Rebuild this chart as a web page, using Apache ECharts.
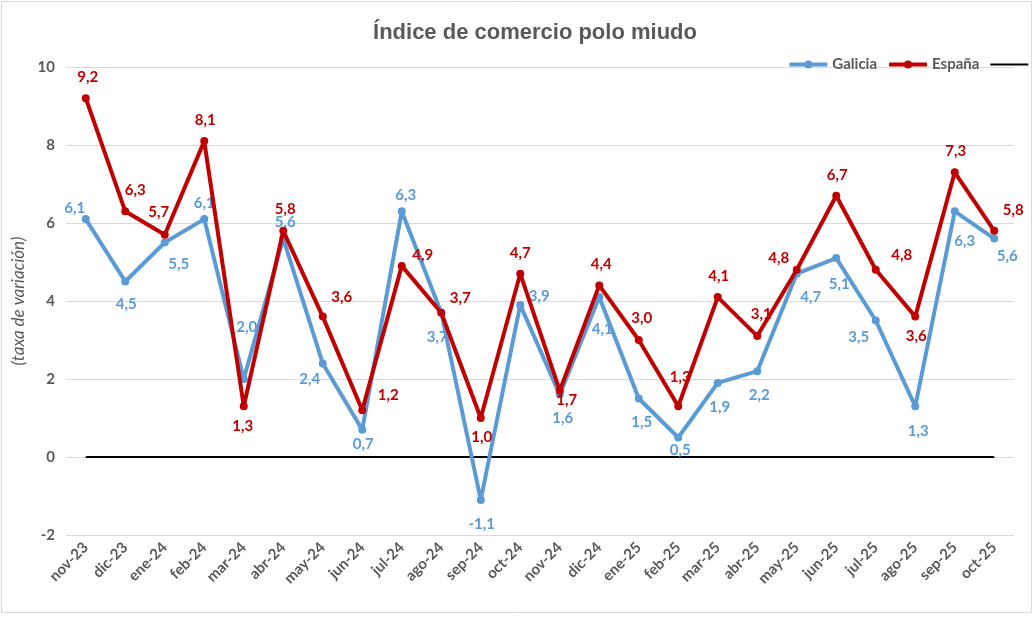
<!DOCTYPE html>
<html>
<head>
<meta charset="utf-8">
<script src="https://cdn.jsdelivr.net/npm/echarts@6/dist/echarts.min.js"></script>
<style>
html,body{margin:0;padding:0;background:#fff;}
#chart{width:1036px;height:620px;}
</style>
</head>
<body>
<div id="chart"></div>
<script>
const categories = ['nov-23','dic-23','ene-24','feb-24','mar-24','abr-24','may-24','jun-24','jul-24','ago-24','sep-24','oct-24','nov-24','dic-24','ene-25','feb-25','mar-25','abr-25','may-25','jun-25','jul-25','ago-25','sep-25','oct-25'];
const galicia = [6.1,4.5,5.5,6.1,2.0,5.6,2.4,0.7,6.3,3.7,-1.1,3.9,1.6,4.1,1.5,0.5,1.9,2.2,4.7,5.1,3.5,1.3,6.3,5.6];
const espana  = [9.2,6.3,5.7,8.1,1.3,5.8,3.6,1.2,4.9,3.7,1.0,4.7,1.7,4.4,3.0,1.3,4.1,3.1,4.8,6.7,4.8,3.6,7.3,5.8];
const zeroLine = categories.map(() => 0);
const yTicks = { min: -2, max: 10, interval: 2 };

// label offsets (px) relative to each point
const galOff = [[-11,-11],[1,23],[14,22],[0,-16],[3,-52],[2,-16],[-13,16],[1,14],[4,-16],[-4,24],[1,24],[19,-9],[3,24],[3,32],[3,24],[2,13],[2,24],[2,24],[14,23],[3,26],[-17,17],[3,25],[10,30],[13,18]];
const espOff = [[2,-21],[10,-21],[-6,-23],[1,-21],[-1,20],[2,-22],[19,-19],[26,-15],[21,-11],[19,-15],[1,19],[0,-21],[7,9],[2,-21],[3,-22],[2,-29],[1,-21],[4,-22],[-18,-12],[1,-21],[26,-15],[1,20],[1,-21],[19,-21]];

const fmt = v => v.toFixed(1).replace('.', ',');
const FONT = 'Lato';
const GRAY = '#595959';

function mkData(vals, offs) {
  return vals.map((v, i) => ({ value: v, label: { offset: offs[i] } }));
}

const chart = echarts.init(document.getElementById('chart'), null, { renderer: 'canvas' });
chart.setOption({
  backgroundColor: '#fff',
  animation: false,
  title: {
    text: 'Índice de comercio polo miudo',
    left: 530, top: 17, textAlign: 'center',
    textStyle: { fontFamily: 'Liberation Sans', fontSize: 22, fontWeight: 'bold', color: GRAY }
  },
  legend: {
    right: -1, top: 57, padding: 0,
    itemWidth: 38, itemHeight: 10, itemGap: 10,
    data: [
      { name: 'Galicia', lineStyle: { width: 4 } },
      { name: 'España', lineStyle: { width: 4 } },
      { name: ' ', lineStyle: { width: 2 }, itemStyle: { opacity: 0 } }
    ],
    textStyle: { fontFamily: FONT, fontWeight: 'bold', fontSize: 15, color: GRAY }
  },
  graphic: [{
    type: 'rect', shape: { x: 1.5, y: 1.5, width: 1030, height: 611 },
    style: { fill: 'none', stroke: '#d9d9d9', lineWidth: 1 }, silent: true, z: -1
  }],
  grid: { left: 66, right: 22, top: 67, bottom: 85 },
  xAxis: {
    type: 'category', data: categories, boundaryGap: true,
    axisLine: { show: false }, axisTick: { show: false },
    axisLabel: { rotate: 45, margin: 10, fontFamily: FONT, fontWeight: 'bold', fontSize: 15, color: GRAY, interval: 0 }
  },
  yAxis: {
    type: 'value', min: yTicks.min, max: yTicks.max, interval: yTicks.interval,
    name: '(taxa de variación)', nameLocation: 'middle', nameGap: 38, nameRotate: 90,
    nameTextStyle: { fontFamily: FONT, fontStyle: 'italic', fontSize: 17, color: GRAY },
    axisLine: { show: false }, axisTick: { show: false },
    axisLabel: { fontFamily: FONT, fontWeight: 'bold', fontSize: 15, color: GRAY, margin: 11 },
    splitLine: { lineStyle: { color: '#d9d9d9', width: 1 } }
  },
  series: [
    {
      name: ' ', type: 'line', data: zeroLine, symbol: 'none', z: 1,
      lineStyle: { color: '#000', width: 2 }, itemStyle: { color: '#000' },
      label: { show: false }, silent: true
    },
    {
      name: 'Galicia', type: 'line', data: mkData(galicia, galOff), z: 2,
      symbol: 'circle', symbolSize: 8,
      lineStyle: { color: '#5B9BD5', width: 4 }, itemStyle: { color: '#5B9BD5' },
      label: {
        show: true, position: 'inside', align: 'center', verticalAlign: 'middle',
        formatter: p => fmt(p.value), color: '#5B9BD5',
        fontFamily: FONT, fontWeight: 'bold', fontSize: 15
      }
    },
    {
      name: 'España', type: 'line', data: mkData(espana, espOff), z: 3,
      symbol: 'circle', symbolSize: 8,
      lineStyle: { color: '#C00000', width: 4 }, itemStyle: { color: '#C00000' },
      label: {
        show: true, position: 'inside', align: 'center', verticalAlign: 'middle',
        formatter: p => fmt(p.value), color: '#C00000',
        fontFamily: FONT, fontWeight: 'bold', fontSize: 15
      }
    }
  ]
});
</script>
</body>
</html>
